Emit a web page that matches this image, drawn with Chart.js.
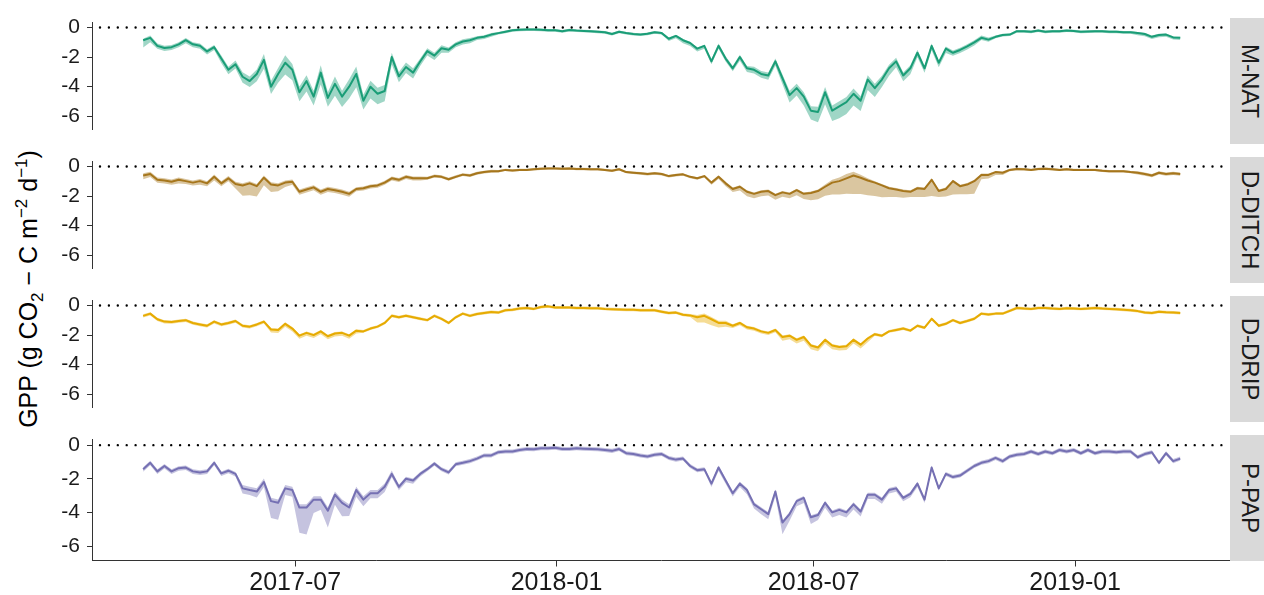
<!DOCTYPE html>
<html>
<head>
<meta charset="utf-8">
<title>GPP by site</title>
<script src="https://cdn.jsdelivr.net/npm/chart.js@4.4.1/dist/chart.umd.min.js"></script>
<style>
  body { margin: 0; background: #fff; font-family: "Liberation Sans", Arial, sans-serif; }
  #wrap { position: relative; width: 1264px; height: 595px; overflow: hidden; background: #fff; }
  #wrap canvas { position: absolute; left: 0; }
  .strip { position: absolute; left: 1230px; width: 40px; background: #d9d9d9; }
  .strip span {
    position: absolute; left: 20px; top: 50%;
    transform: translate(-50%, -50%) rotate(90deg);
    white-space: nowrap; font-size: 24px; color: #1a1a1a;
  }
  #ytitle {
    position: absolute; left: 28px; top: 289px;
    transform: translate(-50%, -50%) rotate(-90deg);
    white-space: nowrap; font-size: 25px; color: #000;
  }
  #ytitle sub, #ytitle sup { font-size: 17px; line-height: 0; }
</style>
</head>
<body>
<div id="wrap">
  <div id="ytitle">GPP (g CO<sub>2</sub> − C m<sup>−2</sup> d<sup>−1</sup>)</div>
</div>
<script>
// daily series sampled every 5 days, first day below
const START = '2017-03-16';
const STEP_DAYS = 5;
const X_MIN = '2017-02-08';
const X_MAX = '2019-04-20';
const X_TICKS = ['2017-07-01', '2018-01-01', '2018-07-01', '2019-01-01'];
const X_TICK_LABELS = ['2017-07', '2018-01', '2018-07', '2019-01'];
const Y_TICKS = [0, -2, -4, -6];
const Y_MIN = -6.86;
const Y_MAX = 0.33;

const SITES = ['M-NAT', 'D-DITCH', 'D-DRIP', 'P-PAP'];
const COLORS = ['#1b9e77', '#a6761d', '#e6ab02', '#7570b3'];

// M-NAT
const mnat = [
  -0.86,-0.7,-1.24,-1.39,-1.33,-1.14,-0.86,-1.14,-1.24,-1.62,
  -1.33,-2.1,-2.86,-2.48,-3.33,-3.62,-3.14,-2.19,-4.0,-3.14,
  -2.38,-2.86,-4.38,-3.62,-4.67,-3.05,-4.76,-3.81,-4.67,-4.0,
  -3.14,-4.95,-4.0,-4.48,-4.29,-2.0,-3.3,-2.67,-3.05,-2.3,
  -1.6,-1.9,-1.4,-1.5,-1.14,-0.95,-0.86,-0.7,-0.63,-0.48,
  -0.38,-0.29,-0.19,-0.15,-0.13,-0.13,-0.15,-0.19,-0.19,-0.25,
  -0.17,-0.21,-0.23,-0.25,-0.29,-0.32,-0.44,-0.29,-0.38,-0.44,
  -0.48,-0.42,-0.32,-0.38,-0.76,-0.57,-0.86,-1.05,-1.43,-1.24,
  -2.29,-1.24,-2.1,-2.76,-2.0,-2.76,-2.86,-3.14,-3.24,-2.29,
  -3.43,-4.57,-4.1,-4.67,-5.62,-5.71,-4.38,-5.62,-5.33,-5.05,
  -4.48,-4.95,-3.52,-4.1,-3.52,-2.76,-2.29,-3.24,-2.76,-1.71,
  -2.76,-1.24,-2.38,-1.43,-1.71,-1.52,-1.28,-1.01,-0.7,-0.82,
  -0.63,-0.51,-0.48,-0.25,-0.25,-0.29,-0.21,-0.29,-0.25,-0.25,
  -0.21,-0.23,-0.29,-0.27,-0.25,-0.25,-0.29,-0.29,-0.32,-0.32,
  -0.38,-0.44,-0.63,-0.51,-0.48,-0.67,-0.7
];
const mnatBelow = [
  .5,.3,.2,.2,.2,.2,.2,.2,.2,.2,
  .2,.3,.3,.3,.4,.4,.5,.6,.5,.6,
  .8,.7,.6,.7,.6,.8,.6,.8,.7,.8,
  .9,.6,.8,.7,.7,.5,.4,.4,.4,.3,
  .3,.3,.3,.2,.2,.2,.2,.15,.15,.15,
  .1,.1,.1,.1,.1,.1,.1,.1,.1,.1,
  .1,.1,.1,.1,.1,.1,.1,.1,.1,.1,
  .1,.1,.1,.1,.15,.15,.2,.2,.2,.2,
  .2,.2,.2,.2,.25,.25,.25,.25,.3,.3,
  .4,.5,.5,.6,.6,.7,.8,.7,.8,.8,
  .8,.7,.7,.6,.5,.5,.4,.4,.4,.3,
  .3,.3,.3,.3,.2,.2,.2,.2,.15,.15,
  .1,.1,.1,.1,.1,.1,.1,.1,.1,.1,
  .1,.1,.1,.1,.1,.1,.1,.1,.1,.1,
  .15,.15,.15,.15,.15,.15,.15
];
const mnatAbove = [
  .1,.15,.15,.15,.15,.15,.15,.15,.15,.15,
  .15,.2,.2,.25,.3,.3,.3,.4,.4,.4,
  .5,.4,.4,.4,.4,.5,.4,.5,.4,.5,
  .5,.4,.4,.4,.4,.3,.3,.3,.3,.2,
  .2,.2,.2,.15,.15,.15,.15,.1,.1,.1,
  .08,.08,.08,.08,.08,.08,.08,.08,.08,.08,
  .08,.08,.08,.08,.08,.08,.08,.08,.08,.08,
  .08,.08,.08,.08,.08,.08,.08,.08,.08,.08,
  .15,.15,.15,.15,.15,.15,.2,.2,.2,.2,
  .25,.3,.3,.3,.3,.35,.35,.35,.35,.35,
  .35,.3,.3,.3,.25,.25,.25,.2,.2,.2,
  .15,.15,.15,.15,.15,.15,.15,.15,.15,.15,
  .08,.08,.08,.08,.08,.08,.08,.08,.08,.08,
  .08,.08,.08,.08,.08,.08,.08,.08,.08,.08,
  .08,.08,.08,.08,.08,.08,.08
];

// D-DITCH
const dditch = [
  -0.61,-0.51,-0.9,-0.95,-1.03,-0.9,-0.99,-1.09,-0.99,-1.14,
  -0.7,-1.14,-0.8,-1.18,-1.28,-1.14,-1.33,-0.76,-1.22,-1.28,
  -1.09,-1.03,-1.71,-1.56,-1.41,-1.71,-1.52,-1.6,-1.71,-1.85,
  -1.52,-1.47,-1.33,-1.28,-1.09,-0.8,-0.9,-0.7,-0.8,-0.8,
  -0.8,-0.65,-0.7,-0.86,-0.7,-0.55,-0.61,-0.46,-0.38,-0.32,
  -0.32,-0.23,-0.27,-0.23,-0.23,-0.19,-0.15,-0.13,-0.13,-0.15,
  -0.13,-0.17,-0.17,-0.19,-0.19,-0.23,-0.29,-0.19,-0.38,-0.42,
  -0.46,-0.51,-0.46,-0.51,-0.65,-0.57,-0.53,-0.7,-0.8,-0.65,
  -1.09,-0.7,-1.14,-1.52,-1.37,-1.71,-1.85,-1.71,-1.66,-1.94,
  -1.75,-1.85,-1.6,-1.85,-1.79,-1.66,-1.37,-1.09,-0.99,-0.8,
  -0.61,-0.76,-0.95,-1.09,-1.28,-1.47,-1.56,-1.66,-1.71,-1.47,
  -1.52,-0.9,-1.66,-1.52,-0.99,-1.33,-1.22,-0.99,-0.57,-0.57,
  -0.38,-0.42,-0.23,-0.17,-0.19,-0.23,-0.17,-0.15,-0.19,-0.23,
  -0.19,-0.23,-0.23,-0.23,-0.23,-0.29,-0.32,-0.32,-0.32,-0.38,
  -0.42,-0.51,-0.61,-0.42,-0.51,-0.46,-0.51
];
const dditchBelow = [
  .25,.2,.2,.2,.2,.25,.2,.2,.25,.2,
  .25,.2,.2,.3,.7,.8,.7,.5,.5,.4,
  .3,.2,.2,.2,.2,.2,.2,.2,.2,.2,
  .15,.15,.15,.15,.15,.15,.15,.15,.15,.15,
  .1,.1,.1,.1,.1,.1,.1,.1,.1,.1,
  .08,.08,.08,.08,.08,.08,.08,.08,.08,.08,
  .08,.08,.08,.08,.08,.08,.08,.08,.08,.08,
  .1,.1,.1,.1,.1,.1,.1,.1,.1,.1,
  .15,.15,.2,.2,.25,.3,.3,.3,.3,.3,
  .3,.3,.35,.35,.5,.55,.6,.8,.9,1.05,
  1.25,1.1,1.0,.9,.8,.6,.5,.45,.35,.6,
  .55,1.1,.4,.5,.9,.55,.65,.85,.3,.25,
  .2,.15,.1,.08,.08,.08,.08,.08,.08,.08,
  .08,.08,.08,.08,.08,.08,.08,.08,.08,.08,
  .12,.12,.12,.12,.12,.12,.12
];
const dditchAbove = [
  .15,.15,.15,.15,.15,.15,.15,.15,.15,.15,
  .15,.15,.15,.15,.15,.15,.15,.15,.15,.15,
  .15,.15,.15,.15,.15,.15,.15,.15,.15,.15,
  .12,.12,.12,.12,.12,.12,.12,.12,.12,.12,
  .1,.1,.1,.1,.1,.1,.1,.1,.1,.1,
  .08,.08,.08,.08,.08,.08,.08,.08,.08,.08,
  .08,.08,.08,.08,.08,.08,.08,.08,.08,.08,
  .08,.08,.08,.08,.08,.08,.08,.08,.08,.08,
  .1,.1,.1,.1,.1,.1,.1,.1,.1,.1,
  .1,.1,.1,.1,.1,.1,.15,.2,.25,.3,
  .25,.2,.15,.1,.1,.1,.1,.1,.1,.1,
  .1,.1,.1,.1,.1,.1,.1,.1,.1,.1,
  .08,.08,.08,.08,.08,.08,.08,.08,.08,.08,
  .08,.08,.08,.08,.08,.08,.08,.08,.08,.08,
  .1,.1,.1,.1,.1,.1,.1
];

// D-DRIP
const ddrip = [
  -0.7,-0.55,-0.93,-1.09,-1.12,-1.05,-0.99,-1.18,-1.28,-1.37,
  -1.09,-1.28,-1.18,-1.05,-1.37,-1.43,-1.28,-1.09,-1.62,-1.66,
  -1.24,-1.56,-2.04,-1.85,-2.0,-1.75,-2.08,-1.89,-1.85,-2.04,
  -1.7,-1.75,-1.56,-1.43,-1.18,-0.7,-0.8,-0.7,-0.8,-0.9,
  -0.99,-0.7,-0.9,-1.18,-0.8,-0.55,-0.7,-0.57,-0.51,-0.44,
  -0.48,-0.32,-0.29,-0.21,-0.17,-0.23,-0.1,-0.06,-0.13,-0.13,
  -0.13,-0.17,-0.17,-0.19,-0.19,-0.23,-0.25,-0.27,-0.29,-0.29,
  -0.32,-0.32,-0.32,-0.42,-0.51,-0.48,-0.63,-0.67,-0.8,-0.7,
  -0.93,-1.18,-1.18,-1.37,-1.18,-1.47,-1.56,-1.75,-1.85,-1.66,
  -2.13,-2.04,-2.32,-2.13,-2.7,-2.84,-2.32,-2.7,-2.8,-2.76,
  -2.32,-2.65,-2.23,-1.94,-2.04,-1.75,-1.66,-1.56,-1.7,-1.37,
  -1.5,-0.9,-1.37,-1.24,-0.99,-1.18,-1.05,-0.9,-0.55,-0.61,
  -0.55,-0.55,-0.36,-0.17,-0.21,-0.23,-0.17,-0.17,-0.21,-0.23,
  -0.19,-0.21,-0.23,-0.21,-0.17,-0.21,-0.23,-0.25,-0.29,-0.32,
  -0.38,-0.48,-0.51,-0.42,-0.46,-0.48,-0.51
];
const ddripBelow = [
  .12,.12,.12,.12,.12,.12,.12,.12,.12,.12,
  .12,.12,.12,.12,.12,.12,.12,.12,.2,.2,
  .2,.2,.2,.2,.2,.2,.2,.2,.2,.2,
  .2,.1,.1,.1,.1,.1,.1,.1,.1,.1,
  .1,.1,.1,.1,.1,.1,.1,.1,.1,.1,
  .1,.1,.1,.1,.1,.1,.1,.1,.1,.1,
  .1,.1,.1,.1,.1,.1,.1,.1,.1,.1,
  .1,.1,.1,.1,.1,.1,.1,.1,.35,.45,
  .4,.3,.25,.15,.15,.15,.15,.15,.15,.15,
  .25,.25,.25,.25,.25,.25,.25,.25,.25,.25,
  .25,.25,.25,.1,.1,.1,.1,.1,.1,.1,
  .1,.1,.1,.1,.1,.1,.1,.1,.1,.1,
  .1,.1,.1,.1,.1,.1,.1,.1,.1,.1,
  .1,.1,.1,.1,.1,.1,.1,.1,.1,.1,
  .1,.1,.1,.1,.1,.1,.1
];
const ddripAbove = [
  .1,.1,.1,.1,.1,.1,.1,.1,.1,.1,
  .1,.1,.1,.1,.1,.1,.1,.1,.1,.1,
  .1,.1,.1,.1,.1,.1,.1,.1,.1,.1,
  .1,.1,.1,.1,.1,.1,.1,.1,.1,.1,
  .1,.1,.1,.1,.1,.1,.1,.1,.1,.1,
  .1,.1,.1,.1,.1,.1,.1,.1,.1,.1,
  .1,.1,.1,.1,.1,.1,.1,.1,.1,.1,
  .1,.1,.1,.1,.1,.1,.1,.1,.15,.15,
  .15,.15,.15,.1,.1,.1,.1,.1,.1,.1,
  .1,.1,.1,.1,.1,.1,.1,.1,.1,.1,
  .1,.1,.1,.1,.1,.1,.1,.1,.1,.1,
  .1,.1,.1,.1,.1,.1,.1,.1,.1,.1,
  .1,.1,.1,.1,.1,.1,.1,.1,.1,.1,
  .1,.1,.1,.1,.1,.1,.1,.1,.1,.1,
  .1,.1,.1,.1,.1,.1,.1
];

// P-PAP
const ppap = [
  -1.43,-1.05,-1.56,-1.24,-1.56,-1.37,-1.33,-1.56,-1.62,-1.56,
  -1.05,-1.68,-1.52,-1.71,-2.57,-2.67,-2.76,-2.19,-3.33,-3.43,
  -2.57,-2.67,-3.71,-3.71,-3.24,-3.24,-3.9,-2.95,-3.43,-3.71,
  -2.67,-3.24,-2.86,-2.86,-2.48,-1.71,-2.48,-2.0,-2.1,-1.71,
  -1.43,-1.1,-1.43,-1.62,-1.14,-1.05,-0.95,-0.8,-0.61,-0.61,
  -0.42,-0.38,-0.38,-0.29,-0.23,-0.25,-0.19,-0.19,-0.15,-0.23,
  -0.23,-0.19,-0.21,-0.23,-0.25,-0.29,-0.34,-0.23,-0.48,-0.53,
  -0.61,-0.67,-0.57,-0.53,-0.76,-0.86,-0.8,-1.24,-1.49,-1.43,
  -2.29,-1.33,-2.1,-2.86,-2.29,-2.67,-3.52,-3.81,-4.1,-2.76,
  -4.6,-4.1,-3.33,-3.14,-4.29,-4.15,-3.43,-4.0,-3.85,-4.0,
  -3.52,-3.95,-2.95,-2.95,-3.24,-2.67,-2.57,-3.14,-2.9,-2.29,
  -3.24,-1.33,-2.57,-1.71,-1.9,-1.81,-1.52,-1.24,-1.05,-0.95,
  -0.76,-0.95,-0.67,-0.57,-0.53,-0.38,-0.53,-0.38,-0.48,-0.29,
  -0.38,-0.29,-0.48,-0.29,-0.48,-0.38,-0.38,-0.42,-0.38,-0.38,
  -0.72,-0.53,-0.42,-1.05,-0.48,-0.95,-0.8
];
const ppapBelow = [
  .15,.15,.15,.15,.15,.15,.15,.15,.15,.15,
  .15,.15,.15,.15,.3,.3,.35,.3,1.0,1.0,
  .4,.4,1.5,1.6,.8,.6,1.0,.6,.8,.5,
  .4,.4,.3,.3,.3,.2,.2,.2,.2,.15,
  .12,.12,.12,.12,.12,.12,.12,.12,.12,.12,
  .12,.12,.12,.12,.12,.12,.12,.12,.12,.12,
  .12,.12,.12,.12,.12,.12,.12,.12,.12,.12,
  .12,.12,.12,.12,.12,.12,.12,.12,.12,.12,
  .2,.2,.2,.2,.2,.25,.25,.3,.3,.3,
  .7,.4,.3,.3,.4,.3,.3,.3,.3,.3,
  .3,.3,.25,.25,.25,.2,.2,.2,.2,.2,
  .2,.12,.12,.12,.12,.12,.12,.12,.12,.12,
  .12,.12,.12,.12,.12,.12,.12,.12,.12,.12,
  .12,.12,.12,.12,.12,.12,.12,.12,.12,.12,
  .12,.12,.12,.12,.12,.12,.12
];
const ppapAbove = [
  .12,.12,.12,.12,.12,.12,.12,.12,.12,.12,
  .12,.12,.12,.12,.2,.2,.2,.2,.2,.2,
  .2,.2,.2,.2,.2,.2,.2,.2,.2,.2,
  .2,.2,.2,.2,.2,.2,.12,.12,.12,.12,
  .12,.12,.12,.12,.12,.12,.12,.12,.12,.12,
  .12,.12,.12,.12,.12,.12,.12,.12,.12,.12,
  .12,.12,.12,.12,.12,.12,.12,.12,.12,.12,
  .12,.12,.12,.12,.12,.12,.12,.12,.12,.12,
  .12,.12,.12,.12,.12,.12,.12,.12,.12,.12,
  .12,.12,.12,.12,.12,.12,.12,.12,.12,.12,
  .12,.12,.12,.12,.12,.12,.12,.12,.12,.12,
  .12,.12,.12,.12,.12,.12,.12,.12,.12,.12,
  .12,.12,.12,.12,.12,.12,.12,.12,.12,.12,
  .12,.12,.12,.12,.12,.12,.12,.12,.12,.12,
  .12,.12,.12,.12,.12,.12,.12
];

const SERIES = [
  { mean: mnat, below: mnatBelow, above: mnatAbove },
  { mean: dditch, below: dditchBelow, above: dditchAbove },
  { mean: ddrip, below: ddripBelow, above: ddripAbove },
  { mean: ppap, below: ppapBelow, above: ppapAbove }
];

// layout of the facet panels (pixels)
const PANEL_TOP = 17.5;
const PANEL_STEP = 139;
const PANEL_H = 126;
const PLOT_LEFT = 92;
const PLOT_RIGHT = 1230;
const PAGE_H = 595;

Chart.defaults.font.family = '"Liberation Sans", Arial, sans-serif';
Chart.defaults.color = '#1a1a1a';

const day = s => Date.UTC(+s.slice(0, 4), +s.slice(5, 7) - 1, +s.slice(8, 10)) / 864e5;
const xs = mnat.map((_, i) => day(START) + i * STEP_DAYS);

function alpha(hex, a) {
  const n = parseInt(hex.slice(1), 16);
  return `rgba(${n >> 16},${(n >> 8) & 255},${n & 255},${a})`;
}

// dotted reference line at y = 0
const zeroLine = {
  id: 'zeroLine',
  beforeDatasetsDraw(chart) {
    const { ctx, chartArea, scales } = chart;
    const y = scales.y.getPixelForValue(0);
    ctx.save();
    ctx.strokeStyle = '#000';
    ctx.lineWidth = 2.4;
    ctx.lineCap = 'round';
    ctx.setLineDash([0, 8.9]);
    ctx.beginPath();
    ctx.moveTo(chartArea.left + 8, y);
    ctx.lineTo(chartArea.right - 4, y);
    ctx.stroke();
    ctx.restore();
  }
};

const wrap = document.getElementById('wrap');

SITES.forEach((site, i) => {
  const s = SERIES[i];
  const last = i === SITES.length - 1;
  const top = PANEL_TOP + i * PANEL_STEP;
  const canvasTop = Math.floor(top) - 14;
  const padTop = top - canvasTop;
  const height = last ? PAGE_H - canvasTop : Math.ceil(padTop + PANEL_H + 14);
  const padBottom = last ? 0 : height - padTop - PANEL_H;

  const canvas = document.createElement('canvas');
  canvas.width = PLOT_RIGHT;
  canvas.height = height;
  canvas.style.top = canvasTop + 'px';
  wrap.appendChild(canvas);

  const strip = document.createElement('div');
  strip.className = 'strip';
  strip.style.top = top + 'px';
  strip.style.height = PANEL_H + 'px';
  strip.innerHTML = '<span>' + site + '</span>';
  wrap.appendChild(strip);

  const lower = s.mean.map((v, k) => ({ x: xs[k], y: v - s.below[k] }));
  const upper = s.mean.map((v, k) => ({ x: xs[k], y: v + s.above[k] }));
  const mean = s.mean.map((v, k) => ({ x: xs[k], y: v }));

  new Chart(canvas, {
    type: 'line',
    data: {
      datasets: [
        { data: lower, borderWidth: 0, pointRadius: 0, fill: false },
        { data: upper, borderWidth: 0, pointRadius: 0, fill: '-1', backgroundColor: alpha(COLORS[i], 0.42) },
        { data: mean, borderColor: COLORS[i], borderWidth: 2, pointRadius: 0, fill: false,
          borderJoinStyle: 'round', tension: 0 }
      ]
    },
    options: {
      responsive: false,
      animation: false,
      events: [],
      layout: { padding: { top: padTop, bottom: padBottom, left: 0, right: 0 } },
      plugins: { legend: { display: false }, tooltip: { enabled: false } },
      scales: {
        x: {
          type: 'linear',
          display: last,
          min: day(X_MIN),
          max: day(X_MAX),
          afterBuildTicks: sc => { sc.ticks = X_TICKS.map(d => ({ value: day(d) })); },
          afterFit: sc => { sc.height = height - padTop - PANEL_H; },
          ticks: {
            callback: (v, idx) => X_TICK_LABELS[idx],
            font: { size: 25 },
            color: '#1a1a1a',
            padding: 2,
            maxRotation: 0,
            autoSkip: false
          },
          grid: { drawOnChartArea: false, tickLength: 6, color: '#333' },
          border: { display: true, color: '#333', width: 1 }
        },
        y: {
          min: Y_MIN,
          max: Y_MAX,
          afterBuildTicks: sc => { sc.ticks = Y_TICKS.map(v => ({ value: v })); },
          afterFit: sc => { sc.width = PLOT_LEFT; },
          ticks: {
            callback: v => String(v),
            font: { size: 21 },
            color: '#1a1a1a',
            padding: 7
          },
          grid: { drawOnChartArea: false, tickLength: 5, color: '#333' },
          border: { display: true, color: '#333', width: 1 }
        }
      }
    },
    plugins: [zeroLine]
  });
});
</script>
</body>
</html>
